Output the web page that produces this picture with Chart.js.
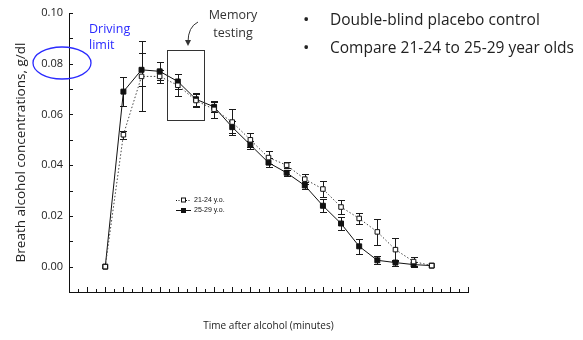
<!DOCTYPE html>
<html>
<head>
<meta charset="utf-8">
<script src="https://cdn.jsdelivr.net/npm/chart.js@4.4.0/dist/chart.umd.min.js"></script>
<style>
    body { margin: 0; background: #fff; }
    #wrap { position: relative; width: 583px; height: 340px; }
    .note { position: absolute; font-family: "Open Sans", sans-serif; white-space: nowrap; color: #222; }
    #bullets { left: 303px; top: 5px; font-size: 15.5px; line-height: 27px; }
    #bullets span { display: inline-block; width: 27px; font-size: 17px; }
    #memory { left: 203px; top: 6px; width: 60px; text-align: center; font-size: 12.5px; line-height: 18px; color: #333; }
    #driving { left: 89px; top: 21px; font-size: 12.5px; line-height: 16px; color: #2b2bff; }
</style>
</head>
<body>
<div id="wrap">
    <canvas id="myChart" width="583" height="340"></canvas>
    <div class="note" id="bullets">
        <div><span>•</span>Double-blind placebo control</div>
        <div><span>•</span>Compare 21-24 to 25-29 year olds</div>
    </div>
    <div class="note" id="memory">Memory<br>testing</div>
    <div class="note" id="driving">Driving<br>limit</div>
</div>
<script>
// time points (minutes after alcohol), one every 10 min
var minutes = [0, 10, 20, 30, 40, 50, 60, 70, 80, 90, 100, 110, 120, 130, 140, 150, 160, 170, 180];
// 21-24 y.o. (open squares, dotted)
var young = [0, 0.052, 0.075, 0.075, 0.0715, 0.0655, 0.062, 0.057, 0.050, 0.043, 0.040, 0.0345, 0.0306, 0.0235, 0.019, 0.0137, 0.0067, 0.002, 0.0004];
var youngErr = [0, 0.0016, 0.0138, 0.0025, 0.0043, 0.0025, 0.0033, 0.005, 0.0027, 0.0027, 0.0011, 0.002, 0.003, 0.0027, 0.0023, 0.005, 0.0046, 0.0018, 0];
// 25-29 y.o. (filled squares, solid)
var older = [0, 0.069, 0.0776, 0.077, 0.073, 0.066, 0.063, 0.055, 0.048, 0.041, 0.037, 0.032, 0.024, 0.017, 0.008, 0.0025, 0.0016, 0.0008, 0.0004];
var olderErr = [0, 0.0058, 0.0065, 0.0035, 0.003, 0.0025, 0.002, 0.0025, 0.0015, 0.0017, 0.0012, 0.0015, 0.0025, 0.0026, 0.003, 0.0016, 0.0012, 0.001, 0];

var seriesNames = ["21-24 y.o.", "25-29 y.o."];
var yLabels = [0, 0.02, 0.04, 0.06, 0.08, 0.10];
var xMin = -20, xMax = 200;
var yMin = -0.01, yMax = 0.10;

function toPoints(vals) {
    return minutes.map(function (m, i) { return { x: m, y: vals[i] }; });
}

// error bars, drawn under the points
var errorBars = {
    id: 'errorBars',
    beforeDatasetsDraw(chart) {
        var ctx = chart.ctx, xs = chart.scales.x, ys = chart.scales.y;
        var vals = [young, older], errs = [youngErr, olderErr];
        ctx.save();
        ctx.strokeStyle = '#1a1a1a';
        ctx.lineWidth = 1;
        ctx.beginPath();
        for (var d = 0; d < 2; d++) {
            for (var i = 0; i < minutes.length; i++) {
                var e = errs[d][i];
                if (!e) continue;
                var px = Math.round(xs.getPixelForValue(minutes[i])) + 0.5;
                var top = Math.round(ys.getPixelForValue(vals[d][i] + e)) + 0.5;
                var bot = Math.round(ys.getPixelForValue(vals[d][i] - e)) + 0.5;
                ctx.moveTo(px, top); ctx.lineTo(px, bot);
                ctx.moveTo(px - 3.5, top); ctx.lineTo(px + 3.5, top);
                ctx.moveTo(px - 3.5, bot); ctx.lineTo(px + 3.5, bot);
            }
        }
        ctx.stroke();
        ctx.restore();
    }
};

// inward tick marks, legend and the slide annotations
var extras = {
    id: 'extras',
    afterDraw(chart) {
        var ctx = chart.ctx, xs = chart.scales.x, ys = chart.scales.y, a = chart.chartArea;
        ctx.save();
        ctx.strokeStyle = '#111';
        ctx.lineWidth = 1;
        ctx.beginPath();
        for (var m = xMin; m <= xMax; m += 5) {
            var px = Math.round(xs.getPixelForValue(m)) + 0.5;
            var len = (m % 10 === 0) ? 5 : 3;
            ctx.moveTo(px, a.bottom);
            ctx.lineTo(px, a.bottom - len);
        }
        for (var k = 0; k <= 10; k++) {
            var py = Math.round(ys.getPixelForValue(k / 100)) + 0.5;
            ctx.moveTo(a.left, py);
            ctx.lineTo(a.left + 4, py);
        }
        ctx.stroke();

        // legend
        ctx.font = '7px "Liberation Sans", Arial, sans-serif';
        ctx.fillStyle = '#111';
        ctx.textBaseline = 'middle';
        var lx = 176, rows = [200, 210];
        ctx.setLineDash([1, 1.5]);
        ctx.beginPath(); ctx.moveTo(lx, rows[0] + 0.5); ctx.lineTo(lx + 15, rows[0] + 0.5); ctx.stroke();
        ctx.setLineDash([]);
        ctx.beginPath(); ctx.moveTo(lx, rows[1] + 0.5); ctx.lineTo(lx + 15, rows[1] + 0.5); ctx.stroke();
        ctx.fillStyle = '#fff';
        ctx.fillRect(lx + 5.5, rows[0] - 2, 4, 4);
        ctx.strokeRect(lx + 5.5, rows[0] - 2, 4, 4);
        ctx.fillStyle = '#111';
        ctx.fillRect(lx + 5, rows[1] - 2, 5, 5);
        ctx.fillText(seriesNames[0], lx + 18, rows[0] + 0.5);
        ctx.fillText(seriesNames[1], lx + 18, rows[1] + 0.5);

        // memory testing box and arrow
        ctx.strokeStyle = '#333';
        ctx.strokeRect(167.5, 50.5, 37, 70);
        ctx.beginPath();
        ctx.moveTo(198, 22);
        ctx.quadraticCurveTo(188, 27, 188, 42);
        ctx.stroke();
        ctx.beginPath();
        ctx.moveTo(185, 40); ctx.lineTo(188, 46); ctx.lineTo(191, 40); ctx.closePath();
        ctx.fillStyle = '#333';
        ctx.fill();

        // driving limit ellipse
        ctx.strokeStyle = '#2b2bff';
        ctx.lineWidth = 1.3;
        ctx.beginPath();
        ctx.ellipse(62, 63, 29, 16, 0, 0, Math.PI * 2);
        ctx.stroke();
        ctx.restore();
    }
};

var ctx = document.getElementById('myChart').getContext('2d');
var chart = new Chart(ctx, {
    type: 'line',
    data: {
        datasets: [{
            label: seriesNames[0],
            data: toPoints(young),
            borderColor: '#444',
            borderWidth: 1,
            borderDash: [1.5, 2],
            pointStyle: 'rect',
            pointRadius: 3.2,
            pointBackgroundColor: '#fff',
            pointBorderColor: '#111',
            pointBorderWidth: 1,
            tension: 0
        }, {
            label: seriesNames[1],
            data: toPoints(older),
            borderColor: '#111',
            borderWidth: 1,
            pointStyle: 'rect',
            pointRadius: 3.5,
            pointBackgroundColor: '#111',
            pointBorderColor: '#111',
            pointBorderWidth: 1,
            tension: 0
        }]
    },
    options: {
        responsive: false,
        animation: false,
        devicePixelRatio: 1,
        layout: { padding: { top: 13, right: 115, left: 0, bottom: 0 } },
        plugins: { legend: { display: false }, tooltip: { enabled: false } },
        scales: {
            x: {
                type: 'linear',
                min: xMin,
                max: xMax,
                grid: { display: false, drawTicks: false },
                border: { display: true, color: '#111', width: 1 },
                ticks: { display: false },
                title: {
                    display: true,
                    text: 'Time after alcohol (minutes)',
                    color: '#222',
                    font: { family: '"Open Sans", sans-serif', size: 10 },
                    padding: { top: 0, bottom: 8 }
                },
                afterFit: function (s) { s.height = 48; }
            },
            y: {
                min: yMin,
                max: yMax,
                grid: { display: false, drawTicks: false },
                border: { display: true, color: '#111', width: 1 },
                afterBuildTicks: function (s) { s.ticks = yLabels.map(function (v) { return { value: v }; }); },
                ticks: {
                    padding: 6,
                    color: '#222',
                    font: { family: '"Open Sans", sans-serif', size: 11 },
                    callback: function (v) { return v.toFixed(2); }
                },
                title: {
                    display: true,
                    text: 'Breath alcohol concentrations, g/dl',
                    color: '#222',
                    font: { family: '"Open Sans", sans-serif', size: 13.5 },
                    padding: { top: 13, bottom: 0 }
                },
                afterFit: function (s) { s.width = 69; }
            }
        }
    },
    plugins: [errorBars, extras]
});
</script>
</body>
</html>
